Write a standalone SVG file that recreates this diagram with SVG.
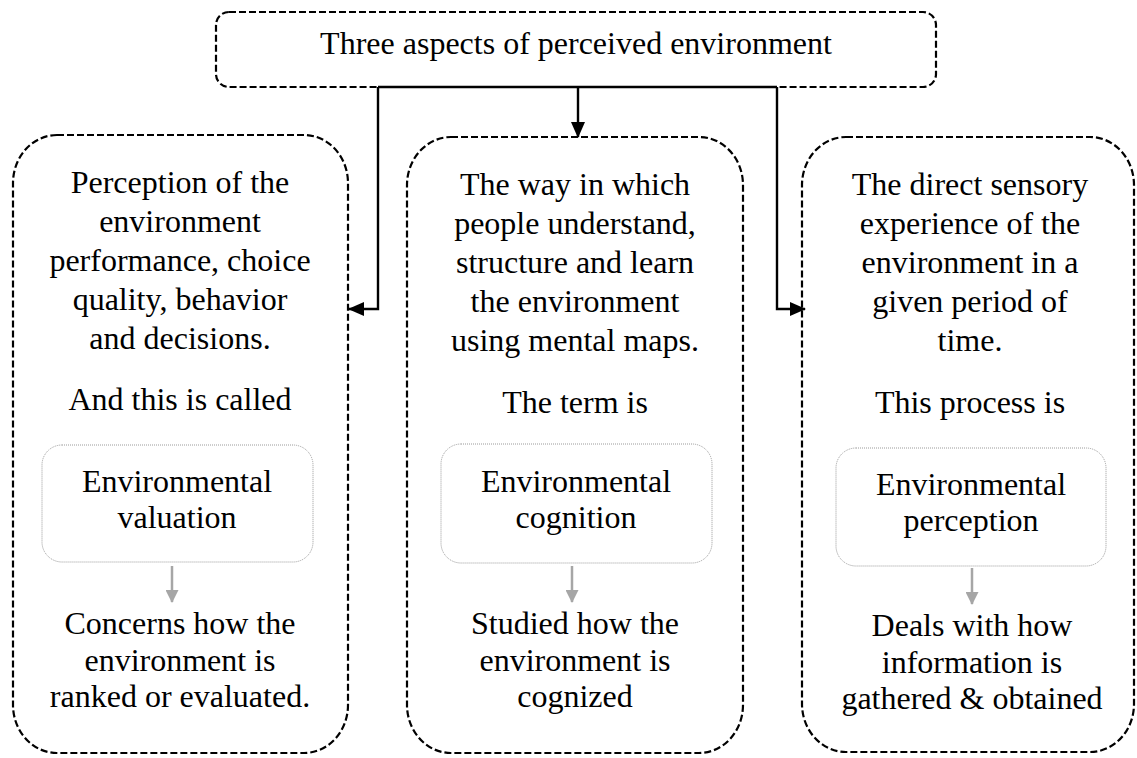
<svg xmlns="http://www.w3.org/2000/svg" width="1137" height="758" viewBox="0 0 1137 758">
  <style>
    .t { font-family: "Liberation Serif", "Times New Roman", serif; font-size: 32px; fill: #000; text-anchor: middle; }
    .outer { fill: none; stroke: #000; stroke-width: 2.2; stroke-dasharray: 7 3; }
    .inner { fill: none; stroke: #9a9a9a; stroke-width: 1; stroke-dasharray: 1 1; }
    .conn { fill: none; stroke: #000; stroke-width: 2.4; }
    .sub { fill: none; stroke: #a6a6a6; stroke-width: 2.5; }
  </style>
  <defs>
    <marker id="ah" markerWidth="16" markerHeight="14" refX="15" refY="7" orient="auto" markerUnits="userSpaceOnUse">
      <path d="M0,0 L16,7 L0,14 Z" fill="#000"/>
    </marker>
    <marker id="ahg" markerWidth="13" markerHeight="13" refX="12" refY="6.5" orient="auto" markerUnits="userSpaceOnUse">
      <path d="M0,0 L13,6.5 L0,13 Z" fill="#a6a6a6"/>
    </marker>
  </defs>

  <rect width="1137" height="758" fill="#fff"/>

  <!-- heading -->
  <g id="heading">
    <rect class="outer" x="216" y="12" width="720" height="75" rx="13" ry="13"/>
    <text class="t" x="576" y="54">Three aspects of perceived environment</text>
  </g>

  <!-- connectors -->
  <g id="connectors">
    <path class="conn" d="M378,87 H777"/>
    <path class="conn" d="M378,87 V309 H349" marker-end="url(#ah)"/>
    <path class="conn" d="M777,87 V309 H805" marker-end="url(#ah)"/>
    <path class="conn" d="M578,87 V137" marker-end="url(#ah)"/>
    <path class="sub" d="M172,566 V602" marker-end="url(#ahg)"/>
    <path class="sub" d="M572,566 V602" marker-end="url(#ahg)"/>
    <path class="sub" d="M972,568 V604" marker-end="url(#ahg)"/>
  </g>

  <!-- valuation column -->
  <g id="valuation">
    <rect class="outer" x="13" y="135" width="335" height="618" rx="44" ry="48"/>
    <text class="t" x="180" y="193">Perception of the</text>
    <text class="t" x="180" y="232">environment</text>
    <text class="t" x="180" y="271">performance, choice</text>
    <text class="t" x="180" y="310">quality, behavior</text>
    <text class="t" x="180" y="349">and decisions.</text>
    <text class="t" x="180" y="410">And this is called</text>
    <rect class="inner" x="42" y="445" width="271" height="117" rx="20" ry="20"/>
    <text class="t" x="177" y="492">Environmental</text>
    <text class="t" x="177" y="528">valuation</text>
    <text class="t" x="180" y="634">Concerns how the</text>
    <text class="t" x="180" y="671">environment is</text>
    <text class="t" x="180" y="707">ranked or evaluated.</text>
  </g>

  <!-- cognition column -->
  <g id="cognition">
    <rect class="outer" x="407" y="137" width="336" height="616" rx="44" ry="48"/>
    <text class="t" x="575" y="195">The way in which</text>
    <text class="t" x="575" y="234">people understand,</text>
    <text class="t" x="575" y="273">structure and learn</text>
    <text class="t" x="575" y="312">the environment</text>
    <text class="t" x="575" y="351">using mental maps.</text>
    <text class="t" x="575" y="413">The term is</text>
    <rect class="inner" x="441" y="444" width="271" height="119" rx="20" ry="20"/>
    <text class="t" x="576" y="492">Environmental</text>
    <text class="t" x="576" y="528">cognition</text>
    <text class="t" x="575" y="634">Studied how the</text>
    <text class="t" x="575" y="671">environment is</text>
    <text class="t" x="575" y="707">cognized</text>
  </g>

  <!-- perception column -->
  <g id="perception">
    <rect class="outer" x="802" y="137" width="332" height="615" rx="44" ry="48"/>
    <text class="t" x="970" y="195">The direct sensory</text>
    <text class="t" x="970" y="234">experience of the</text>
    <text class="t" x="970" y="273">environment in a</text>
    <text class="t" x="970" y="312">given period of</text>
    <text class="t" x="970" y="351">time.</text>
    <text class="t" x="970" y="413">This process is</text>
    <rect class="inner" x="836" y="448" width="270" height="118" rx="20" ry="20"/>
    <text class="t" x="971" y="495">Environmental</text>
    <text class="t" x="971" y="531">perception</text>
    <text class="t" x="972" y="636">Deals with how</text>
    <text class="t" x="972" y="673">information is</text>
    <text class="t" x="972" y="709">gathered &amp; obtained</text>
  </g>
</svg>
